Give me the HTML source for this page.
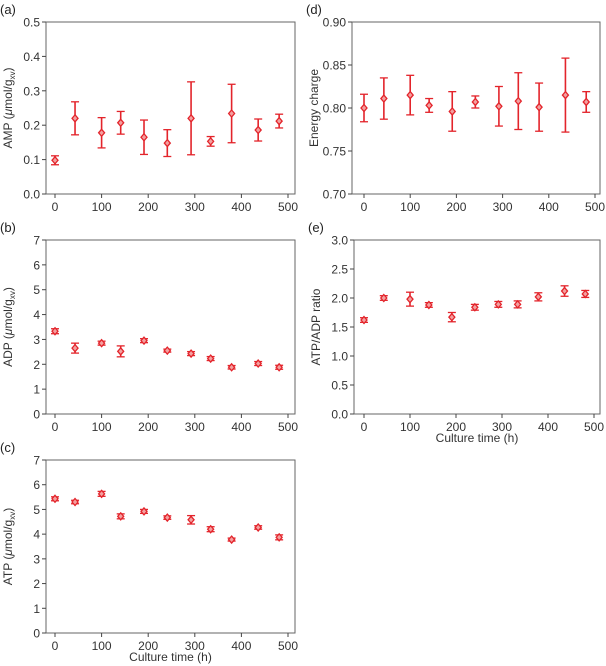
<!DOCTYPE html>
<html><head><meta charset="utf-8"><style>
html,body{margin:0;padding:0;background:#fff;}
svg{display:block;font-family:"Liberation Sans","DejaVu Sans",sans-serif;}
</style></head><body>
<svg id="fig" width="606" height="666" xmlns="http://www.w3.org/2000/svg"></svg>
<script>
const times=[0,43,100,141,191,241,292,334,379,436,481];
const ampVal=[0.098,0.220,0.178,0.207,0.165,0.148,0.220,0.153,0.234,0.186,0.212];
const ampErr=[0.013,0.048,0.044,0.033,0.050,0.039,0.106,0.014,0.085,0.032,0.020];
const ecVal=[0.800,0.811,0.815,0.803,0.796,0.807,0.802,0.808,0.801,0.815,0.807];
const ecErr=[0.016,0.024,0.023,0.008,0.023,0.007,0.023,0.033,0.028,0.043,0.012];
const adpVal=[3.33,2.65,2.85,2.52,2.95,2.55,2.43,2.23,1.88,2.03,1.88];
const adpErr=[0.10,0.20,0.08,0.22,0.08,0.06,0.08,0.08,0.07,0.08,0.08];
const ratioVal=[1.62,2.00,1.98,1.88,1.67,1.84,1.89,1.89,2.02,2.12,2.07];
const ratioErr=[0.04,0.04,0.12,0.04,0.08,0.05,0.05,0.06,0.07,0.09,0.06];
const atpVal=[5.43,5.30,5.63,4.72,4.92,4.67,4.58,4.20,3.78,4.27,3.87];
const atpErr=[0.08,0.07,0.10,0.10,0.08,0.07,0.17,0.10,0.06,0.07,0.10];
const xTicks=[0,100,200,300,400,500];
const ampTicks=["0.0","0.1","0.2","0.3","0.4","0.5"];
const ecTicks=["0.70","0.75","0.80","0.85","0.90"];
const adpTicks=["0","1","2","3","4","5","6","7"];
const ratioTicks=["0.0","0.5","1.0","1.5","2.0","2.5","3.0"];
const atpTicks=["0","1","2","3","4","5","6","7"];

const NS="http://www.w3.org/2000/svg";
const svg=document.getElementById('fig');
function mk(tag,attrs,parent){const e=document.createElementNS(NS,tag);for(const k in attrs)e.setAttribute(k,attrs[k]);(parent||svg).appendChild(e);return e;}
const RED="#e3242b";
function panel(o){
  const g=mk('g',{},svg);
  
  
  const ymin=parseFloat(o.yTicks[0]),ymax=parseFloat(o.yTicks[o.yTicks.length-1]);
  const xs=v=>o.x0+(v/500)*(o.x500-o.x0);
  const ys=v=>o.bottom-(v-ymin)/(ymax-ymin)*(o.bottom-o.top);
  const lab=mk('text',{x:o.left-46,y:o.top-8,'font-size':13,fill:'#222'},g);
  lab.textContent=o.label;
  
  
  const frame=mk('rect',{x:o.left,y:o.top,width:o.right-o.left,height:o.bottom-o.top,fill:'none',stroke:'#666','stroke-width':1},g);
  
  
  xTicks.forEach(t=>{
    const x=xs(t);
    mk('line',{x1:x,x2:x,y1:o.bottom,y2:o.bottom+4,stroke:'#444'},g);
    const tx=mk('text',{x:x,y:o.bottom+17,'font-size':12,'text-anchor':'middle',fill:'#333'},g);
    tx.textContent=t;
    
    
  });
  o.yTicks.forEach(t=>{
    const y=ys(parseFloat(t));
    mk('line',{x1:o.left-4,x2:o.left,y1:y,y2:y,stroke:'#444'},g);
    const ty=mk('text',{x:o.left-6,y:y+4.5,'font-size':12,'text-anchor':'end',fill:'#333'},g);
    ty.textContent=t;
    
    
  });
  const cy=(o.top+o.bottom)/2, yx=o.left-34;
  const yt=mk('text',{x:yx,y:cy,'font-size':12,'text-anchor':'middle',fill:'#333',transform:`rotate(-90 ${yx} ${cy})`},g);
  yt.innerHTML=o.ytitle;
  
  
  if(o.xtitle){
    const xt=mk('text',{x:(o.left+o.right)/2,y:o.bottom+28,'font-size':12,'text-anchor':'middle',fill:'#333'},g);
    xt.textContent='Culture time (h)';
    
    
  }
  times.forEach((t,i)=>{
    const x=xs(t),v=o.vals[i],e=o.errs[i];
    const y1=ys(v-e),y2=ys(v+e),y=ys(v);
    const pg=mk('g',{},g);
    
    
    mk('line',{x1:x,x2:x,y1:y1,y2:y2,stroke:RED,'stroke-width':1.6},pg);
    mk('line',{x1:x-4,x2:x+4,y1:y1,y2:y1,stroke:RED,'stroke-width':1.3},pg);
    mk('line',{x1:x-4,x2:x+4,y1:y2,y2:y2,stroke:RED,'stroke-width':1.3},pg);
    mk('path',{d:`M${x} ${y-3.5}L${x+3} ${y}L${x} ${y+3.5}L${x-3} ${y}Z`,fill:'#f3a0a0',stroke:RED,'stroke-width':1.3},pg);
  });
}
const sub='(<tspan font-style="italic">μ</tspan>mol/g<tspan font-size="8" dy="3">xv</tspan><tspan dy="-3">)</tspan>';
panel({name:'panel-a-amp',label:'(a)',left:46,right:295,top:22,bottom:194,x0:55,x500:288,yTicks:ampTicks,vals:ampVal,errs:ampErr,ytitle:'AMP '+sub});
panel({name:'panel-d-energy-charge',label:'(d)',left:352,right:600,top:22,bottom:194,x0:364,x500:595,yTicks:ecTicks,vals:ecVal,errs:ecErr,ytitle:'Energy charge'});
panel({name:'panel-b-adp',label:'(b)',left:46,right:295,top:240,bottom:414,x0:55,x500:288,yTicks:adpTicks,vals:adpVal,errs:adpErr,ytitle:'ADP '+sub});
panel({name:'panel-e-atp-adp-ratio',label:'(e)',left:354,right:600,top:240,bottom:414,x0:364,x500:594,yTicks:ratioTicks,vals:ratioVal,errs:ratioErr,ytitle:'ATP/ADP ratio',xtitle:true});
panel({name:'panel-c-atp',label:'(c)',left:46,right:295,top:460,bottom:633,x0:55,x500:288,yTicks:atpTicks,vals:atpVal,errs:atpErr,ytitle:'ATP '+sub,xtitle:true});
</script>
</body></html>
